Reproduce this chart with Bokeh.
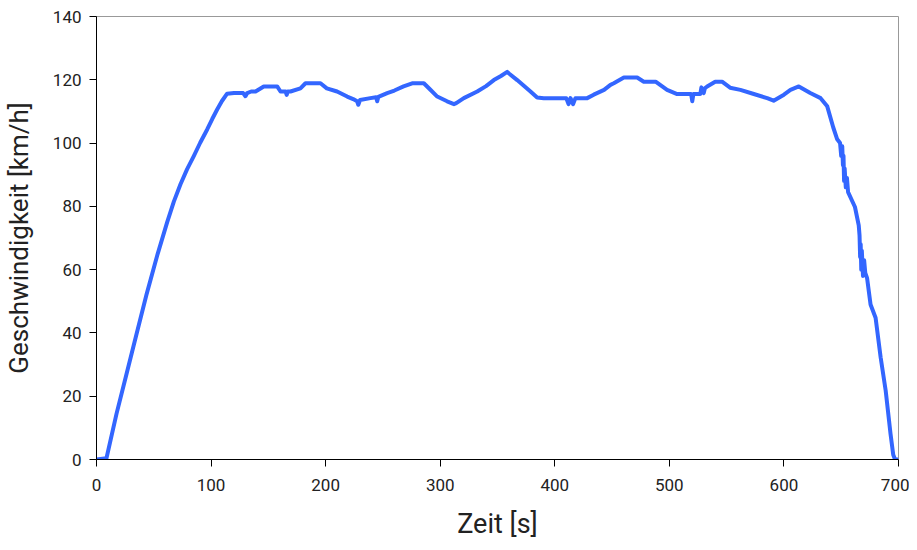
from bokeh.plotting import figure
from bokeh.models import Range1d, FixedTicker
from bokeh.embed import file_html
from bokeh.resources import INLINE

zeit = [0, 8.7, 17.5, 26.2, 34.9, 43.6, 53.4, 61.7, 67.5, 73.3, 79, 84.9, 90.5, 96.6, 101, 105.3, 109.5, 114,
        120, 128, 130, 131.5, 135, 138.8, 146, 152, 157.7, 160.6, 165, 166, 167, 169.3, 178, 182.4,
        195.5, 201, 210, 218.8, 224, 227.5, 228.5, 230, 239, 244, 245, 246, 253.7, 260, 268, 275.5,
        282.8, 285.7, 291, 297.4, 306, 312, 314, 320.6, 332.3, 340, 346.8, 353, 358.5, 360, 367.2,
        378.8, 384.6, 390.4, 400, 410, 412, 413.7, 416, 418, 420, 428.3, 434, 443, 448.6, 451.5,
        460.3, 471.9, 477.7, 488, 498, 506.8, 515, 519, 520, 521, 527, 528, 530, 531, 533, 540, 546,
        553, 562, 573.7, 585.4, 591, 600, 605.7, 613, 623, 632, 637.8, 643, 646.5, 649, 650, 650.9,
        651.5, 652, 652.5, 653, 654, 655, 656, 662, 665.3, 666, 666.5, 667, 667.5, 668, 669, 670,
        671, 672.6, 675.6, 680, 684.4, 688.8, 693, 695.4, 697, 700]
geschw = [0, 0.4, 14.5, 27, 39.6, 52.1, 65, 75, 81.5, 87, 91.7, 95.9, 100.1, 104.3, 107.6, 110.6, 113.3, 115.6,
          115.8, 115.8, 114.8, 115.8, 116.3, 116.3, 117.9, 117.9, 117.9, 116.3, 116.3, 115.2, 116.3, 116.3, 117.3, 118.9,
          118.9, 117.3, 116.3, 114.7, 113.9, 113.2, 112.1, 113.6, 114.2, 114.5, 113.2, 114.6, 115.8, 116.6, 117.9, 118.9,
          118.9, 118.9, 117.0, 114.7, 113.2, 112.3, 112.6, 114.2, 116.3, 118.0, 119.9, 121.2, 122.5, 122.0, 119.9,
          116.3, 114.4, 114.2, 114.2, 114.2, 112.3, 114.2, 112.3, 114.2, 114.2, 114.2, 115.3, 116.8, 118.4, 118.9,
          120.7, 120.7, 119.4, 119.4, 116.8, 115.5, 115.5, 115.5, 113.2, 115.5, 115.5, 117.6, 115.8, 117.3, 117.9, 119.4, 119.4,
          117.5, 116.8, 115.5, 114.2, 113.4, 115.3, 116.8, 117.9, 115.8, 114.2, 111.6, 105, 101.2, 100, 95.9, 99,
          93, 96, 88, 92, 86, 89, 84.5, 79.8, 74, 70.8, 64, 68, 60, 66, 58, 63,
          59, 57.3, 49, 44.8, 32.3, 21.8, 8.2, 1.5, 0, 0]

x_ticks = [0, 100, 200, 300, 400, 500, 600, 700]
y_ticks = [0, 20, 40, 60, 80, 100, 120, 140]

FONT = "Roboto"

p = figure(width=909, height=542, output_backend="svg", toolbar_location=None,
           x_range=Range1d(0, 700), y_range=Range1d(0, 140),
           min_border_left=96, min_border_right=11, min_border_top=16, min_border_bottom=79)

p.line(zeit, geschw, line_color="#3366ff", line_width=4, line_join="round")

p.xgrid.visible = False
p.ygrid.visible = False
p.outline_line_color = "#999999"
p.outline_line_width = 1

for ax, ticks in ((p.xaxis[0], x_ticks), (p.yaxis[0], y_ticks)):
    ax.ticker = FixedTicker(ticks=ticks)
    ax.minor_tick_line_color = None
    ax.axis_line_color = "black"
    ax.major_tick_line_color = "black"
    ax.major_tick_out = 7
    ax.major_tick_in = 0
    ax.major_label_text_font = FONT
    ax.major_label_text_font_size = "17px"
    ax.major_label_text_color = "#222222"
    ax.axis_label_text_font = FONT
    ax.axis_label_text_font_style = "normal"
    ax.axis_label_text_color = "#222222"

p.xaxis.axis_label = "Zeit [s]"
p.yaxis.axis_label = "Geschwindigkeit [km/h]"
p.xaxis.axis_label_text_font_size = "27px"
p.yaxis.axis_label_text_font_size = "26px"
p.xaxis.major_label_standoff = 12
p.yaxis.major_label_standoff = 8
p.xaxis.axis_label_standoff = 14
p.yaxis.axis_label_standoff = 16

open("out.html", "w").write(file_html(p, INLINE))
